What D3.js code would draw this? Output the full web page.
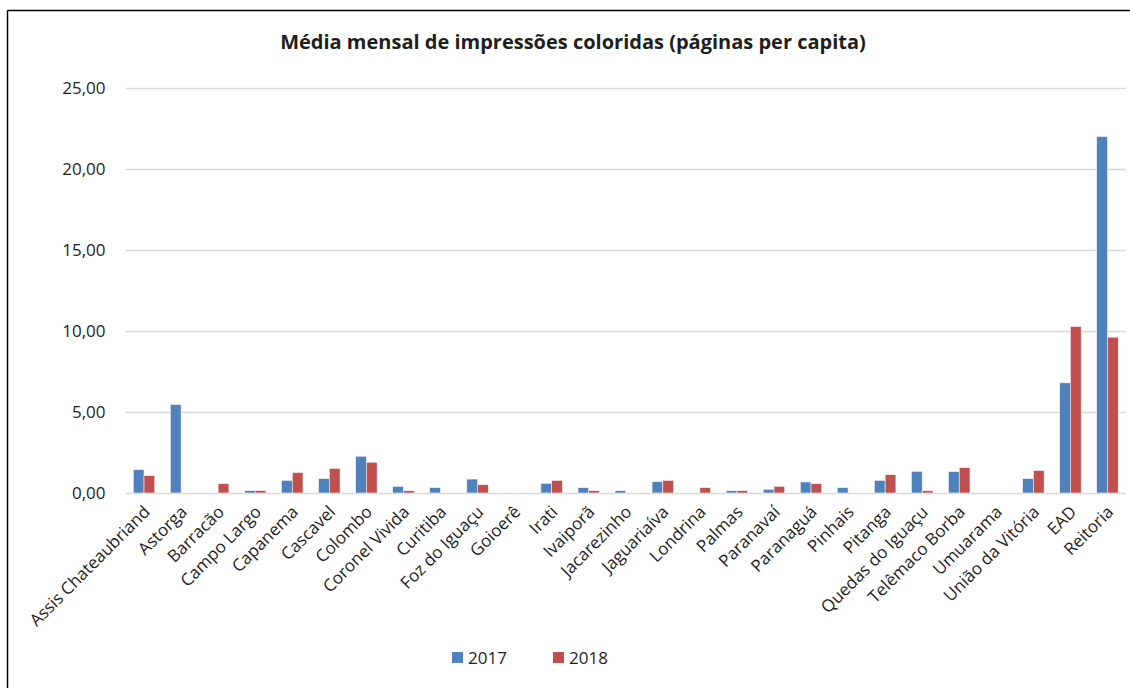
<!DOCTYPE html>
<html>
<head>
<meta charset="utf-8">
<script src="https://cdn.jsdelivr.net/npm/d3@7"></script>
<style>
  body { margin: 0; background: #fff; }
  text { font-family: "Open Sans", "Noto Sans", sans-serif; fill: #1e1e1e; }
</style>
</head>
<body>
<div id="graph"></div>
<script>
// campus names
var campi = ["Assis Chateaubriand", "Astorga", "Barracão", "Campo Largo", "Capanema",
  "Cascavel", "Colombo", "Coronel Vivida", "Curitiba", "Foz do Iguaçu", "Goioerê",
  "Irati", "Ivaiporã", "Jacarezinho", "Jaguariaíva", "Londrina", "Palmas", "Paranavaí",
  "Paranaguá", "Pinhais", "Pitanga", "Quedas do Iguaçu", "Telêmaco Borba", "Umuarama",
  "União da Vitória", "EAD", "Reitoria"];

var v2017 = [1.44, 5.46, 0, 0.15, 0.78, 0.89, 2.27, 0.41, 0.33, 0.86, 0,
  0.60, 0.33, 0.14, 0.70, 0, 0.14, 0.23, 0.68, 0.33, 0.78, 1.34, 1.32, 0,
  0.89, 6.80, 22.0];
var v2018 = [1.07, 0, 0.58, 0.15, 1.26, 1.52, 1.90, 0.14, 0, 0.51, 0,
  0.78, 0.14, 0, 0.78, 0.33, 0.14, 0.41, 0.58, 0, 1.13, 0.14, 1.57, 0,
  1.39, 10.28, 9.62];

var series = ["2017", "2018"];
var colors = ["#4F81BD", "#C0504D"];
var yTicks = [0, 5, 10, 15, 20, 25];

var W = 1130, H = 688;
var margin = {top: 88, right: 4, bottom: 195, left: 125.5};
var width = W - margin.left - margin.right;
var height = H - margin.top - margin.bottom;

var root = d3.select('#graph')
  .append('svg')
    .attr("width", W)
    .attr("height", H);

// frame (only top and left edges visible in the original)
root.append("line")
    .attr("x1", 7.5).attr("y1", 10.5).attr("x2", W).attr("y2", 10.5)
    .attr("stroke", "#000").attr("stroke-width", 1.5);
root.append("line")
    .attr("x1", 7.5).attr("y1", 10.5).attr("x2", 7.5).attr("y2", H)
    .attr("stroke", "#000").attr("stroke-width", 1.5);

root.append("text")
    .attr("x", 573)
    .attr("y", 49)
    .attr("text-anchor", "middle")
    .attr("font-size", 20)
    .attr("font-weight", "bold")
    .text("Média mensal de impressões coloridas (páginas per capita)");

var svg = root.append("g")
    .attr("transform", "translate(" + margin.left + "," + margin.top + ")");

var x = d3.scaleBand()
    .domain(campi)
    .range([0, width])
    .paddingInner(0.42)
    .paddingOuter(0.21);

var xs = d3.scaleBand()
    .domain(series)
    .range([0, x.bandwidth()]);

var y = d3.scaleLinear()
    .domain([0, 25])
    .range([height, 0]);

// gridlines
svg.append("g")
  .selectAll("line")
  .data(yTicks)
  .join("line")
    .attr("x1", 0)
    .attr("x2", width)
    .attr("y1", function(d) { return y(d) + 0.5; })
    .attr("y2", function(d) { return y(d) + 0.5; })
    .attr("stroke", "#d9d9d9")
    .attr("stroke-width", 1.5);

// y axis labels
var yAxis = svg.append("g")
    .attr("transform", "translate(-17,0)")
    .call(d3.axisLeft(y).tickValues(yTicks).tickSize(0)
      .tickFormat(function(d) { return d3.format(".2f")(d).replace(".", ","); }));
yAxis.select(".domain").remove();
yAxis.selectAll("text")
    .attr("font-size", 17)
    .attr("font-family", "'Open Sans', sans-serif")
    .attr("fill", "#1e1e1e");

// bars
var data = campi.map(function(c, i) {
  return {campus: c, vals: [v2017[i], v2018[i]]};
});

var groups = svg.append("g")
  .selectAll("g")
  .data(data)
  .join("g")
    .attr("transform", function(d) { return "translate(" + x(d.campus) + ",0)"; });

groups.selectAll("rect")
  .data(function(d) { return d.vals.map(function(v, k) { return {s: series[k], v: v, k: k}; }); })
  .join("rect")
    .filter(function(d) { return d.v > 0; })
    .attr("x", function(d) { return xs(d.s); })
    .attr("width", xs.bandwidth())
    .attr("y", function(d) { return y(d.v); })
    .attr("height", function(d) { return height - y(d.v); })
    .attr("fill", function(d) { return colors[d.k]; })
    .attr("stroke", "#f4f4f4")
    .attr("stroke-width", 0.6);

// x axis labels
svg.append("g")
  .selectAll("text")
  .data(campi)
  .join("text")
    .attr("text-anchor", "end")
    .attr("font-size", 17)
    .attr("transform", function(d) {
      return "translate(" + (x(d) + x.bandwidth() / 2 + 7) + "," + (height + 20) + ") rotate(-45)";
    })
    .text(function(d) { return d; });

// legend
var legend = root.append("g")
  .selectAll("g")
  .data(series)
  .join("g")
    .attr("transform", function(d, i) { return "translate(" + (452 + i * 101) + ",652)"; });
legend.append("rect")
    .attr("width", 11)
    .attr("height", 11)
    .attr("fill", function(d, i) { return colors[i]; });
legend.append("text")
    .attr("x", 16)
    .attr("y", 12)
    .attr("font-size", 17)
    .text(function(d) { return d; });
</script>
</body>
</html>
